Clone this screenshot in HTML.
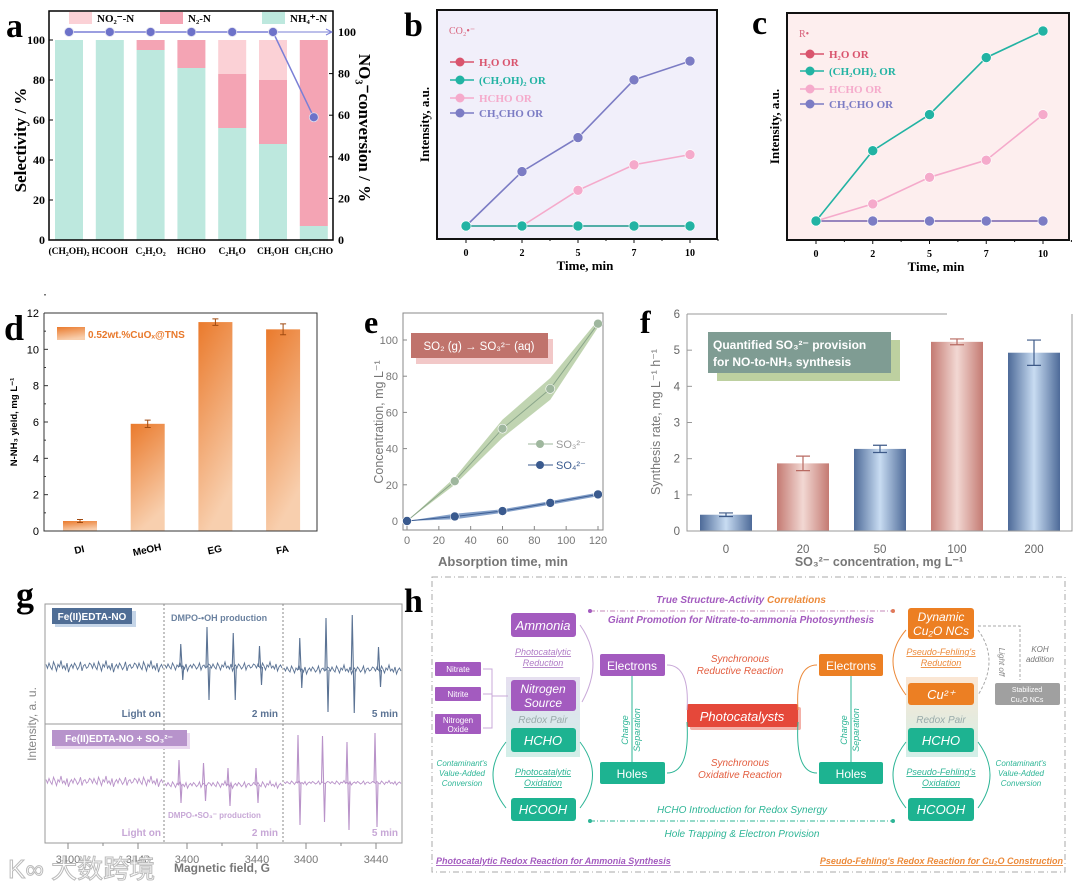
<!DOCTYPE html>
<html><head><meta charset="utf-8">
<style>
html,body{margin:0;padding:0;background:#fff;}
svg{display:block;}
.serif{font-family:"Liberation Serif",serif;}
.sans{font-family:"Liberation Sans",sans-serif;}
</style></head>
<body>
<svg id="fig" width="1080" height="887" viewBox="0 0 1080 887" xmlns="http://www.w3.org/2000/svg">
<defs>
  <linearGradient id="gOrange" x1="0" y1="0" x2="0.3" y2="1"><stop offset="0" stop-color="#ea7a2c"/><stop offset="1" stop-color="#f8cfae"/></linearGradient>
  <linearGradient id="gBlue" x1="0" y1="0" x2="1" y2="0"><stop offset="0" stop-color="#4d6a98"/><stop offset="0.5" stop-color="#c8dcf2"/><stop offset="1" stop-color="#4d6a98"/></linearGradient>
  <linearGradient id="gPink" x1="0" y1="0" x2="1" y2="0"><stop offset="0" stop-color="#c47a72"/><stop offset="0.5" stop-color="#f2d8d3"/><stop offset="1" stop-color="#c47a72"/></linearGradient>
  <linearGradient id="gRedoxL" x1="0" y1="0" x2="0" y2="1"><stop offset="0" stop-color="#e6dff0"/><stop offset="1" stop-color="#d2efe8"/></linearGradient>
  <linearGradient id="gRedoxR" x1="0" y1="0" x2="0" y2="1"><stop offset="0" stop-color="#fbe6d3"/><stop offset="1" stop-color="#d2efe8"/></linearGradient>
</defs>

<g class="serif" font-weight="bold" fill="#000">
<text x="6" y="37" font-size="34">a</text>
<text x="404" y="36" font-size="34">b</text>
<text x="752" y="34" font-size="34">c</text>
<text x="4" y="340" font-size="36">d</text>
<text x="364" y="333" font-size="32">e</text>
<text x="640" y="333" font-size="32">f</text>
<text x="16" y="607" font-size="36">g</text>
<text x="404" y="612" font-size="34">h</text>
</g>

<g id="pa"></g>
<g id="pb"></g>
<g id="pc"></g>
<g id="pd"></g>
<g id="pe"></g>
<g id="pf"></g>
<g id="pg"></g>

<g id="ph" class="sans">
  <rect x="432" y="577" width="633" height="295" fill="none" stroke="#aaa" stroke-dasharray="6,3,1,3"/>
  <text x="741" y="603" font-size="10" font-style="italic" font-weight="bold" text-anchor="middle"><tspan fill="#a35bbf">True Structure-Activity </tspan><tspan fill="#ec8a3a">Correlations</tspan></text>
  <line x1="590" y1="611" x2="893" y2="611" stroke="#c48ab8" stroke-dasharray="5,2,1,2"/>
  <circle cx="590" cy="611" r="2" fill="#a35bbf"/><circle cx="893" cy="611" r="2" fill="#e07a5a"/>
  <text x="741" y="623" font-size="10" font-style="italic" font-weight="bold" text-anchor="middle" fill="#a35bbf">Giant Promotion for Nitrate-to-ammonia Photosynthesis</text>

  <rect x="506" y="677" width="74" height="80" fill="url(#gRedoxL)"/>
  <rect x="906" y="677" width="72" height="80" fill="url(#gRedoxR)"/>
  <text x="543" y="723" font-size="10" font-style="italic" fill="#9aa" text-anchor="middle">Redox Pair</text>
  <text x="941" y="723" font-size="10" font-style="italic" fill="#9aa" text-anchor="middle">Redox Pair</text>

  <g font-size="13" font-style="italic" fill="#fff" text-anchor="middle">
  <rect x="511" y="613" width="65" height="24" rx="3" fill="#a35bbf"/><text x="543" y="630">Ammonia</text>
  <rect x="511" y="680" width="65" height="31" rx="3" fill="#a35bbf"/><text x="543" y="693" font-size="12">Nitrogen</text><text x="543" y="707" font-size="12">Source</text>
  <rect x="511" y="728" width="65" height="24" rx="3" fill="#1db391"/><text x="543" y="745">HCHO</text>
  <rect x="511" y="798" width="65" height="23" rx="3" fill="#1db391"/><text x="543" y="814">HCOOH</text>
  <rect x="908" y="608" width="66" height="31" rx="3" fill="#ec7f23"/><text x="941" y="621" font-size="12">Dynamic</text><text x="941" y="635" font-size="12">Cu₂O NCs</text>
  <rect x="908" y="683" width="66" height="22" rx="3" fill="#ec7f23"/><text x="941" y="699">Cu²⁺</text>
  <rect x="908" y="728" width="66" height="24" rx="3" fill="#1db391"/><text x="941" y="745">HCHO</text>
  <rect x="908" y="798" width="66" height="23" rx="3" fill="#1db391"/><text x="941" y="814">HCOOH</text>
  </g>
  <g font-size="12" fill="#fff" text-anchor="middle">
  <rect x="600" y="654" width="65" height="22" rx="2" fill="#a35bbf"/><text x="632" y="670">Electrons</text>
  <rect x="600" y="762" width="65" height="22" rx="2" fill="#1db391"/><text x="632" y="778">Holes</text>
  <rect x="819" y="654" width="64" height="22" rx="2" fill="#ec7f23"/><text x="851" y="670">Electrons</text>
  <rect x="819" y="762" width="64" height="22" rx="2" fill="#1db391"/><text x="851" y="778">Holes</text>
  <rect x="690" y="707" width="111" height="23" rx="2" fill="#f4b0a8"/>
  <rect x="687" y="704" width="111" height="23" rx="2" fill="#e5483a"/><text x="742" y="721" font-size="13" font-style="italic">Photocatalysts</text>
  </g>
  <g font-size="8" fill="#fff" text-anchor="middle">
  <rect x="435" y="662" width="46" height="14" rx="1" fill="#a35bbf"/><text x="458" y="672">Nitrate</text>
  <rect x="435" y="687" width="46" height="14" rx="1" fill="#a35bbf"/><text x="458" y="697">Nitrite</text>
  <rect x="435" y="714" width="46" height="20" rx="1" fill="#a35bbf"/><text x="458" y="723">Nitrogen</text><text x="458" y="732">Oxide</text>
  <rect x="995" y="683" width="65" height="22" rx="2" fill="#a0a0a0"/><text x="1027" y="692" font-size="7">Stabilized</text><text x="1027" y="702" font-size="7">Cu₂O NCs</text>
  </g>
  <path d="M483 669 H492 V728 H483 M483 694 H492 M492 696 H508" fill="none" stroke="#c8a8d8"/>
  <g font-size="9" font-style="italic" text-anchor="middle">
  <text x="543" y="655" fill="#b07cc6" text-decoration="underline">Photocatalytic</text><text x="543" y="666" fill="#b07cc6" text-decoration="underline">Reduction</text>
  <text x="543" y="775" fill="#2db596" text-decoration="underline">Photocatalytic</text><text x="543" y="786" fill="#2db596" text-decoration="underline">Oxidation</text>
  <text x="941" y="655" fill="#ec8a3a" text-decoration="underline">Pseudo-Fehling's</text><text x="941" y="666" fill="#ec8a3a" text-decoration="underline">Reduction</text>
  <text x="941" y="775" fill="#2db596" text-decoration="underline">Pseudo-Fehling's</text><text x="941" y="786" fill="#2db596" text-decoration="underline">Oxidation</text>
  <text x="740" y="662" fill="#e35d3f" font-size="10">Synchronous</text><text x="740" y="674" fill="#e35d3f" font-size="10">Reductive Reaction</text>
  <text x="740" y="766" fill="#e35d3f" font-size="10">Synchronous</text><text x="740" y="778" fill="#e35d3f" font-size="10">Oxidative Reaction</text>
  <text x="462" y="766" fill="#2db596" font-size="8">Contaminant's</text><text x="462" y="776" fill="#2db596" font-size="8">Value-Added</text><text x="462" y="786" fill="#2db596" font-size="8">Conversion</text>
  <text x="1021" y="766" fill="#2db596" font-size="8">Contaminant's</text><text x="1021" y="776" fill="#2db596" font-size="8">Value-Added</text><text x="1021" y="786" fill="#2db596" font-size="8">Conversion</text>
  <text x="1040" y="652" fill="#777" font-size="8">KOH</text><text x="1040" y="662" fill="#777" font-size="8">addition</text>
  <text transform="translate(999,662) rotate(90)" fill="#888" font-size="8">Light off</text>
  <text transform="translate(628,730) rotate(-90)" fill="#2db596" font-size="9">Charge</text>
  <text transform="translate(640,730) rotate(-90)" fill="#2db596" font-size="9">Separation</text>
  <text transform="translate(847,730) rotate(-90)" fill="#2db596" font-size="9">Charge</text>
  <text transform="translate(859,730) rotate(-90)" fill="#2db596" font-size="9">Separation</text>
  <text x="742" y="813" fill="#2db596" font-size="10">HCHO Introduction for Redox Synergy</text>
  <text x="742" y="837" fill="#2db596" font-size="10">Hole Trapping &amp; Electron Provision</text>
  </g>
  <line x1="590" y1="821" x2="893" y2="821" stroke="#2db596" stroke-dasharray="5,2,1,2"/>
  <circle cx="590" cy="821" r="2" fill="#2db596"/><circle cx="893" cy="821" r="2" fill="#2db596"/>
  <g fill="none" stroke-width="1">
  <line x1="632" y1="676" x2="632" y2="762" stroke="#2db596"/>
  <line x1="851" y1="676" x2="851" y2="762" stroke="#2db596"/>
  <path d="M687 710 Q690 665 667 665" stroke="#c8a8d8"/>
  <path d="M798 710 Q795 665 817 665" stroke="#ec8a3a"/>
  <path d="M687 722 Q690 773 667 773" stroke="#2db596"/>
  <path d="M798 722 Q795 773 817 773" stroke="#2db596"/>
  <path d="M582 702 Q605 660 580 625" stroke="#c8a8d8"/>
  <path d="M506 742 Q480 775 506 808" stroke="#2db596"/>
  <path d="M580 742 Q605 775 580 808" stroke="#2db596"/>
  <path d="M906 630 Q880 660 906 695" stroke="#ec8a3a"/>
  <path d="M978 630 Q1000 660 978 695" stroke="#aaa" stroke-dasharray="3,2"/>
  <path d="M906 742 Q880 775 906 808" stroke="#2db596"/>
  <path d="M978 742 Q1002 775 978 808" stroke="#2db596"/>
  <path d="M978 626 H1020 V680" stroke="#aaa" stroke-dasharray="3,2"/>
  </g>
  <text x="436" y="864" font-size="9" font-style="italic" font-weight="bold" fill="#a35bbf" text-decoration="underline">Photocatalytic  Redox Reaction  for Ammonia  Synthesis</text>
  <text x="1063" y="864" font-size="9" font-style="italic" font-weight="bold" fill="#ec8a3a" text-anchor="end" text-decoration="underline">Pseudo-Fehling's Redox Reaction for Cu₂O Construction</text>
</g>

<text x="8" y="878" font-size="26" fill="#fff" stroke="#bbb" stroke-width="1" font-family="'Liberation Sans','Noto Sans CJK SC',sans-serif">K∞ 大数跨境</text>
</svg>

<script>
const NS='http://www.w3.org/2000/svg';
function mk(tag,parent,attrs,txt){const e=document.createElementNS(NS,tag);for(const k in attrs)e.setAttribute(k,attrs[k]);if(txt!==undefined)e.textContent=txt;parent.appendChild(e);return e;}

const aCats=['(CH₂OH)₂','HCOOH','C₂H₂O₂','HCHO','C₂H₆O','CH₃OH','CH₃CHO'];
const aNH4=[100,100,95,86,56,48,7];
const aN2=[0,0,5,14,27,32,93];
const aNO2=[0,0,0,0,17,20,0];
const aConv=[100,100,100,100,100,100,59];
const aTicks=[0,20,40,60,80,100];

const tCats=['0','2','5','7','10'];
const bH2O=[0,0,0,0,0];
const bEG=[0,0,0,0,0];
const bHCHO=[0,0,2.1,3.6,4.2];
const bCH3CHO=[0,3.2,5.2,8.6,9.7];
const cH2O=[0,0,0,0,0];
const cEG=[0,3.7,5.6,8.6,10];
const cHCHO=[0,0.9,2.3,3.2,5.6];
const cCH3CHO=[0,0,0,0,0];

const dCats=['DI','MeOH','EG','FA'];
const dVals=[0.55,5.9,11.5,11.1];
const dErr=[0.08,0.2,0.18,0.3];
const dTicks=[0,2,4,6,8,10,12];

const eTime=[0,30,60,90,120];
const eSO3=[0,22,51,73,109];
const eSO4=[0,2.5,5.5,10,14.7];
const eSO3Spread=[0,2,5,6,2];
const eSO4Spread=[0,1.5,1,1,1];
const eXTicks=[0,20,40,60,80,100,120];
const eYTicks=[0,20,40,60,80,100];

const fCats=['0','20','50','100','200'];
const fVals=[0.45,1.87,2.27,5.23,4.93];
const fErr=[0.05,0.2,0.1,0.08,0.35];
const fTicks=[0,1,2,3,4,5,6];

const gPeaksOH=[3397,3412,3427,3442];
const gUpOH2=[23,40,34,21];
const gDnOH2=[13,33,33,18];
const gUpOH5=[32,52,55,23];
const gDnOH5=[18,42,43,17];
const gPeaksSO3=[3396,3410,3424,3440];
const gUpSO3_2=[25,22,17,17];
const gDnSO3_2=[18,16,21,18];
const gUpSO3_5=[48,47,41,50];
const gDnSO3_5=[42,39,47,44];
const gNoise=[2,-1,3,0,-2,4,1,-3,2,0,5,-1,1,-2,3,-4,0,2,-1,3,1,-2,0,4,-3,1,2,-1,0,3];

(function(){
 const g=document.getElementById('pa');
 const L=49,R=333,T=11,B=240;
 const y=v=>B-v*2.0, y2=v=>B-v*2.08, cx=i=>69+i*40.8;
 let e;
 aCats.forEach((c,i)=>{
  const stack=[[aNH4[i],'#bde8de','nh4'],[aN2[i],'#f4a4b4','n2'],[aNO2[i],'#fbd1d6','no2']];
  let base=0;
  stack.forEach(s=>{ if(s[0]>0){
    e=mk('rect',g,{x:cx(i)-14,y:y(base+s[0]),width:28,height:s[0]*2.0,fill:s[1]});
    
    
    base+=s[0];}});
  e=mk('text',g,{x:cx(i),y:254,'font-size':9.5,'font-weight':'bold','text-anchor':'middle',class:'serif'},c);
  
  
 });
 e=mk('rect',g,{x:L,y:T,width:R-L,height:B-T,fill:'none',stroke:'#000','stroke-width':1.5});
 
 
 aTicks.forEach(t=>{
  mk('line',g,{x1:L,y1:y(t),x2:L+4,y2:y(t),stroke:'#000'});
  e=mk('text',g,{x:L-4,y:y(t)+4,'font-size':12,'font-weight':'bold','text-anchor':'end',class:'serif'},t);
  
  
  mk('line',g,{x1:R,y1:y2(t),x2:R-4,y2:y2(t),stroke:'#000'});
  e=mk('text',g,{x:R+5,y:y2(t)+4,'font-size':12,'font-weight':'bold',class:'serif'},t);
  
  
 });
 let pts=aConv.map((v,i)=>cx(i)+','+y2(v)).join(' ');
 e=mk('polyline',g,{points:pts,fill:'none',stroke:'#7a7fd6','stroke-width':1.5});
 
 
 mk('line',g,{x1:cx(5),y1:y2(100),x2:R-2,y2:y2(100),stroke:'#7a7fd6','stroke-width':1});
 mk('path',g,{d:`M${R-7} ${y2(100)-3} L${R-1} ${y2(100)} L${R-7} ${y2(100)+3}`,fill:'none',stroke:'#7a7fd6'});
 aConv.forEach((v,i)=>{e=mk('circle',g,{cx:cx(i),cy:y2(v),r:4.5,fill:'#6d72c9',stroke:'#dde','stroke-width':0.8});
  
  });
 e=mk('text',g,{transform:'translate(26,140) rotate(-90)','font-size':17,'font-weight':'bold','text-anchor':'middle',class:'serif'},'Selectivity / %');
 
 
 e=mk('text',g,{transform:'translate(359,128) rotate(90)','font-size':17,'font-weight':'bold','text-anchor':'middle',class:'serif'},'NO₃⁻conversion / %');
 
 
 [['NO₂⁻-N','#fbd1d6',69],['N₂-N','#f4a4b4',160],['NH₄⁺-N','#bde8de',262]].forEach(l=>{
  e=mk('rect',g,{x:l[2],y:12,width:23,height:12,fill:l[1]});
  
  
  e=mk('text',g,{x:l[2]+28,y:22,'font-size':11,'font-weight':'bold',class:'serif'},l[0]);
  
  
 });
})();

function lineChart(id,frame,x0,dx,base,unit,series,legendX,legendY,tag,bg){
 const g=document.getElementById(id);let e;
 e=mk('rect',g,{x:frame[0],y:frame[1],width:frame[2]-frame[0],height:frame[3]-frame[1],fill:bg,stroke:'#111','stroke-width':2});
 
 
 const xp=i=>x0+i*dx, yp=v=>base-v*unit;
 tCats.forEach((t,i)=>{
  mk('line',g,{x1:xp(i),y1:frame[3],x2:xp(i),y2:frame[3]+4,stroke:'#111'});
  mk('line',g,{x1:xp(i)+dx/2,y1:frame[3],x2:xp(i)+dx/2,y2:frame[3]+2,stroke:'#111'});
  e=mk('text',g,{x:xp(i),y:frame[3]+17,'font-size':10,'font-weight':'bold','text-anchor':'middle',class:'serif'},t);
  
  
 });
 e=mk('text',g,{x:(frame[0]+frame[2])/2+8,y:frame[3]+31,'font-size':13,'font-weight':'bold','text-anchor':'middle',class:'serif'},'Time, min');
 
 
 e=mk('text',g,{transform:`translate(${frame[0]-8},${(frame[1]+frame[3])/2}) rotate(-90)`,'font-size':13,'font-weight':'bold','text-anchor':'middle',class:'serif'},'Intensity, a.u.');
 
 
 e=mk('text',g,{x:frame[0]+12,y:frame[1]+24,'font-size':10,fill:'#d8607a',class:'serif'},tag);
 
 
 series.forEach((s,k)=>{
  const pts=s.v.map((v,i)=>xp(i)+','+yp(v)).join(' ');
  e=mk('polyline',g,{points:pts,fill:'none',stroke:s.c,'stroke-width':1.6});
  
  
  s.v.forEach((v,i)=>{e=mk('circle',g,{cx:xp(i),cy:yp(v),r:5,fill:s.c,stroke:'#fff','stroke-width':0.6});
   
   });
  const ly=legendY[k];
  mk('line',g,{x1:legendX,y1:ly,x2:legendX+24,y2:ly,stroke:s.c,'stroke-width':1.6});
  mk('circle',g,{cx:legendX+10,cy:ly,r:4.5,fill:s.c});
  e=mk('text',g,{x:legendX+29,y:ly+4,'font-size':11,'font-weight':'bold',fill:s.c,class:'serif'},s.n);
  
  
 });
}
lineChart('pb',[437,10,717,239],466,56,226,17,[
 {v:bH2O,c:'#d9546d',n:'H₂O OR'},{v:bHCHO,c:'#f5aacb',n:'HCHO OR'},{v:bCH3CHO,c:'#7c7cc4',n:'CH₃CHO OR'},{v:bEG,c:'#22b3a3',n:'(CH₂OH)₂ OR'}],
 450,[62,98,113,80],'CO₂•⁻','#f1effa');
lineChart('pc',[787,13,1069,240],816,56.75,221,19,[
 {v:cH2O,c:'#d9546d',n:'H₂O OR'},{v:cHCHO,c:'#f5aacb',n:'HCHO OR'},{v:cCH3CHO,c:'#7c7cc4',n:'CH₃CHO OR'},{v:cEG,c:'#22b3a3',n:'(CH₂OH)₂ OR'}],
 800,[54,89,104,71],'R•','#fdeeee');

(function(){
 const g=document.getElementById('pd');let e;
 const L=44,R=317,T=313,B=531,y=v=>B-v*(B-T)/12,cx=i=>80+i*67.7;
 dVals.forEach((v,i)=>{
  e=mk('rect',g,{x:cx(i)-17,y:y(v),width:34,height:B-y(v),fill:'url(#gOrange)'});
  
  
  mk('path',g,{d:`M${cx(i)} ${y(v+dErr[i])} V${y(v-dErr[i])} M${cx(i)-3} ${y(v+dErr[i])} h6 M${cx(i)-3} ${y(v-dErr[i])} h6`,stroke:'#a04a10',fill:'none'});
  e=mk('text',g,{transform:`translate(${cx(i)},${B+22}) rotate(-12)`,'font-size':10,'font-weight':'bold','text-anchor':'middle',class:'sans'},dCats[i]);
  
  
 });
 e=mk('path',g,{d:`M${L} ${T} V${B} H${R} V${T} H${L}`,fill:'none',stroke:'#333','stroke-width':1});
 
 
 dTicks.forEach(t=>{mk('line',g,{x1:L,y1:y(t),x2:L+4,y2:y(t),stroke:'#333'});
  mk('line',g,{x1:L,y1:y(t+1),x2:L+2,y2:y(t+1),stroke:'#333'});
  e=mk('text',g,{x:L-5,y:y(t)+4,'font-size':11,'text-anchor':'end',class:'sans'},t);
  
  });
 e=mk('text',g,{transform:'translate(17,422) rotate(-90)','font-size':9.5,'font-weight':'bold','text-anchor':'middle',class:'sans'},'N-NH₃ yield, mg L⁻¹');
 
 
 e=mk('rect',g,{x:57,y:327,width:28,height:13,fill:'url(#gOrange)'});
 
 
 e=mk('text',g,{x:88,y:338,'font-size':10,'font-weight':'bold',fill:'#e8782a',class:'sans'},'0.52wt.%CuOₓ@TNS');
 
 
})();

(function(){
 const g=document.getElementById('pe');let e;
 const L=403,R=603,T=313,B=530,x=v=>407+v*(598-407)/120,y=v=>521-v*(521-340)/100;
 e=mk('rect',g,{x:L,y:T,width:R-L,height:B-T,fill:'#fff',stroke:'#888'});
 
 
 eXTicks.forEach(t=>{mk('line',g,{x1:x(t),y1:B,x2:x(t),y2:B-4,stroke:'#888'});
  e=mk('text',g,{x:x(t),y:B+14,'font-size':11,fill:'#777','text-anchor':'middle',class:'sans'},t);
  
  });
 eYTicks.forEach(t=>{mk('line',g,{x1:L,y1:y(t),x2:L+4,y2:y(t),stroke:'#888'});
  e=mk('text',g,{x:L-5,y:y(t)+4,'font-size':11,fill:'#777','text-anchor':'end',class:'sans'},t);
  
  });
 function band(vals,spread,fill,line,mark,name){
  const up=vals.map((v,i)=>x(eTime[i])+','+y(v+spread[i])).join(' ');
  const dn=vals.map((v,i)=>x(eTime[i])+','+y(v-spread[i])).reverse().join(' ');
  e=mk('polygon',g,{points:up+' '+dn,fill:fill,opacity:0.85});
  
  
  e=mk('polyline',g,{points:vals.map((v,i)=>x(eTime[i])+','+y(v)).join(' '),fill:'none',stroke:line});
  
  
  vals.forEach((v,i)=>{e=mk('circle',g,{cx:x(eTime[i]),cy:y(v),r:4.5,fill:mark,stroke:'#fff','stroke-width':0.6});
   
   });
 }
 band(eSO3,eSO3Spread,'#b5cca3','#8aa58a','#9fb79e','so3');
 band(eSO4,eSO4Spread,'#6e8fc0','#3e5f95','#3a5a8e','so4');
 mk('rect',g,{x:416,y:339,width:137,height:25,fill:'#f2c8c8'});
 e=mk('rect',g,{x:411,y:333,width:137,height:25,fill:'#c0736c'});
 
 
 e=mk('text',g,{x:479,y:350,'font-size':11.5,fill:'#fff','text-anchor':'middle',class:'sans'},'SO₂ (g) → SO₃²⁻ (aq)');
 
 
 [['SO₃²⁻','#9fb79e',444],['SO₄²⁻','#3a5a8e',465]].forEach(l=>{
  mk('line',g,{x1:528,y1:l[2],x2:553,y2:l[2],stroke:l[1]});
  mk('circle',g,{cx:540,cy:l[2],r:4,fill:l[1]});
  e=mk('text',g,{x:556,y:l[2]+4,'font-size':11,fill:l[1]=='#9fb79e'?'#999':'#3a5a8e',class:'sans'},l[0]);
  
  });
 e=mk('text',g,{x:503,y:566,'font-size':13,'font-weight':'bold',fill:'#777','text-anchor':'middle',class:'sans'},'Absorption time, min');
 
 
 e=mk('text',g,{transform:'translate(383,422) rotate(-90)','font-size':12.5,fill:'#777','text-anchor':'middle',class:'sans'},'Concentration, mg L⁻¹');
 
 
})();

(function(){
 const g=document.getElementById('pf');let e;
 const L=687,R=1072,T=314,B=531,y=v=>B-v*(B-T)/6,cx=i=>726+i*77;
 mk('rect',g,{x:717,y:340,width:183,height:41,fill:'#bdd0a0'});
 e=mk('rect',g,{x:708,y:332,width:183,height:41,fill:'#7f9c93'});
 
 
 e=mk('text',g,{x:713,y:349,'font-size':12,'font-weight':'bold',fill:'#fff',class:'sans'},'Quantified SO₃²⁻ provision');
 
 
 e=mk('text',g,{x:713,y:366,'font-size':12,'font-weight':'bold',fill:'#fff',class:'sans'},'for NO-to-NH₃ synthesis');
 
 
 fVals.forEach((v,i)=>{
  e=mk('rect',g,{x:cx(i)-26,y:y(v),width:52,height:B-y(v),fill:(i==1||i==3)?'url(#gPink)':'url(#gBlue)'});
  
  
  const c=(i==1||i==3)?'#b86a62':'#3e5a88';
  mk('path',g,{d:`M${cx(i)} ${y(v+fErr[i])} V${y(v-fErr[i])} M${cx(i)-7} ${y(v+fErr[i])} h14 M${cx(i)-7} ${y(v-fErr[i])} h14`,stroke:c,fill:'none','stroke-width':1.2});
  e=mk('text',g,{x:cx(i),y:B+22,'font-size':11.5,fill:'#666','text-anchor':'middle',class:'sans'},fCats[i]);
  
  
 });
 e=mk('path',g,{d:`M${L} ${T} V${B} H${R} V${T}`,fill:'none',stroke:'#999'});
 
 
 mk('line',g,{x1:L,y1:T,x2:L+260,y2:T,stroke:'#999'});
 fTicks.forEach(t=>{mk('line',g,{x1:L,y1:y(t),x2:L+5,y2:y(t),stroke:'#999'});
  e=mk('text',g,{x:L-7,y:y(t)+4,'font-size':11.5,fill:'#666','text-anchor':'end',class:'sans'},t);
  
  });
 e=mk('text',g,{x:879,y:566,'font-size':12.5,'font-weight':'bold',fill:'#777','text-anchor':'middle',class:'sans'},'SO₃²⁻ concentration, mg L⁻¹');
 
 
 e=mk('text',g,{transform:'translate(660,422) rotate(-90)','font-size':12.5,fill:'#777','text-anchor':'middle',class:'sans'},'Synthesis rate, mg L⁻¹ h⁻¹');
 
 
})();

(function(){
 const g=document.getElementById('pg');let e;
 const L=45,R=402,T=604,B=843,M=724;
 const segs=[[45,164],[164,283],[283,402]];
 const fx=(s,f)=>segs[s][0]+23+(f-3400)*(70/40);
 function trace(s,baseY,peaks,up,dn,col,noiseAmp,name){
  let d='';const x0=segs[s][0]+1,x1=segs[s][1]-1;let k=0;
  for(let px=x0;px<=x1;px+=1.5){let v=gNoise[k%gNoise.length]*noiseAmp;k++;d+=(d?'L':'M')+px.toFixed(1)+' '+(baseY-v).toFixed(1);}
  e=mk('path',g,{d:d,fill:'none',stroke:col,'stroke-width':0.9});
  
  
  peaks.forEach((p,i)=>{ if(up&&up[i]){const X=fx(s,p);
   e=mk('path',g,{d:`M${X-2} ${baseY} L${X-1} ${baseY-up[i]} L${X+1} ${baseY+dn[i]} L${X+2} ${baseY}`,fill:'none',stroke:col,'stroke-width':1.1});
   
   }});
 }
 const cT='#5b7394',cB='#b993c9';
 trace(0,667,gPeaksOH,null,null,cT,1.3,'oh-light-on');
 trace(1,667,gPeaksOH,gUpOH2,gDnOH2,cT,1.0,'oh-2min');
 trace(2,670,gPeaksOH,gUpOH5,gDnOH5,cT,1.0,'oh-5min');
 trace(0,782,gPeaksSO3,null,null,cB,1.2,'so3-light-on');
 trace(1,785,gPeaksSO3,gUpSO3_2,gDnSO3_2,cB,0.8,'so3-2min');
 trace(2,783,gPeaksSO3,gUpSO3_5,gDnSO3_5,cB,0.5,'so3-5min');
 e=mk('rect',g,{x:L,y:T,width:R-L,height:B-T,fill:'none',stroke:'#999'});
 
 
 mk('line',g,{x1:L,y1:M,x2:R,y2:M,stroke:'#999'});
 [164,283].forEach(X=>mk('line',g,{x1:X,y1:T,x2:X,y2:B,stroke:'#888','stroke-dasharray':'2,2'}));
 const gTicks=[3400,3420,3440];
 segs.forEach((sg,s)=>gTicks.forEach(t=>{
  mk('line',g,{x1:fx(s,t),y1:B,x2:fx(s,t),y2:B+(t==3420?3:6),stroke:'#888'});
  if(t!=3420){e=mk('text',g,{x:fx(s,t),y:B+20,'font-size':11,fill:'#777','text-anchor':'middle',class:'sans'},t);
  
  }
 }));
 e=mk('text',g,{x:222,y:872,'font-size':12,'font-weight':'bold',fill:'#777','text-anchor':'middle',class:'sans'},'Magnetic field, G');
 
 
 e=mk('text',g,{transform:'translate(36,724) rotate(-90)','font-size':12,fill:'#888','text-anchor':'middle',class:'sans'},'Intensity, a. u.');
 
 
 mk('rect',g,{x:55,y:611,width:81,height:16,fill:'#c5d5e8'});
 e=mk('rect',g,{x:52,y:608,width:80,height:16,fill:'#4f6d95'});
 
 
 mk('text',g,{x:92,y:620,'font-size':10,'font-weight':'bold',fill:'#fff','text-anchor':'middle',class:'sans'},'Fe(II)EDTA-NO');
 mk('rect',g,{x:55,y:733,width:135,height:16,fill:'#ead8f0'});
 e=mk('rect',g,{x:52,y:730,width:135,height:16,fill:'#b793cb'});
 
 
 mk('text',g,{x:119,y:742,'font-size':10,'font-weight':'bold',fill:'#fff','text-anchor':'middle',class:'sans'},'Fe(II)EDTA-NO + SO₃²⁻');
 const lbl=[[171,621,'DMPO-•OH production','#6b82a0','start',9],[168,818,'DMPO-•SO₃⁻ production','#c7a7d6','start',8],
  [161,717,'Light on','#5b7394','end',10],[278,717,'2 min','#5b7394','end',10],[398,717,'5 min','#5b7394','end',10],
  [161,836,'Light on','#c7a7d6','end',10],[278,836,'2 min','#c7a7d6','end',10],[398,836,'5 min','#c7a7d6','end',10]];
 lbl.forEach(l=>{e=mk('text',g,{x:l[0],y:l[1],'font-size':l[5],'font-weight':'bold',fill:l[3],'text-anchor':l[4],class:'sans'},l[2]);
  
  });
})();
</script>
</body></html>
